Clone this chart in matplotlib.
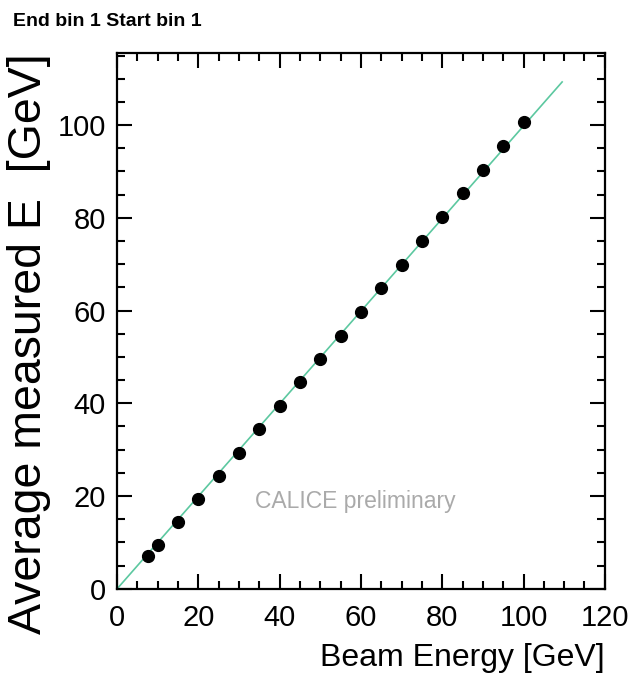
import matplotlib
matplotlib.use('Agg')
import matplotlib.pyplot as plt
from matplotlib.ticker import MultipleLocator

# beam energy scan, average reconstructed energy
beam_energy = [7.5, 10, 15, 20, 25, 30, 35, 40, 45, 50, 55, 60, 65, 70, 75, 80, 85, 90, 95, 100]
measured_e = [7.0, 9.5, 14.5, 19.3, 24.3, 29.3, 34.4, 39.5, 44.5, 49.6,
              54.6, 59.7, 64.8, 69.9, 75.0, 80.2, 85.3, 90.4, 95.4, 100.7]

# linear fit line end points
fit_x = [0, 109.5]
fit_y = [0, 109.3]

plt.rcParams['font.family'] = ['Liberation Sans', 'DejaVu Sans']

fig = plt.figure(figsize=(6.3, 6.91), dpi=100)
ax = fig.add_axes([0.186, 0.148, 0.774, 0.775])

ax.plot(fit_x, fit_y, color='#5cc8a0', linewidth=1.2, zorder=2)
ax.plot(beam_energy, measured_e, 'o', color='black', markersize=8.5, zorder=3)

ax.set_xlim(0, 120)
ax.set_ylim(0, 115.5)

ax.xaxis.set_major_locator(MultipleLocator(20))
ax.xaxis.set_minor_locator(MultipleLocator(5))
ax.yaxis.set_major_locator(MultipleLocator(20))
ax.yaxis.set_minor_locator(MultipleLocator(5))
ax.tick_params(which='both', direction='in', top=True, right=True, width=1.5)
ax.tick_params(which='major', length=11, labelsize=21, pad=8)
ax.tick_params(axis='x', which='major', pad=11)
ax.tick_params(which='minor', length=5.5)
for s in ax.spines.values():
    s.set_linewidth(1.6)

ax.set_xlabel('Beam Energy [GeV]', fontsize=23, loc='right', labelpad=8)
ax.set_ylabel('Average measured E  [GeV]', fontsize=33.5, loc='top', labelpad=5)

ax.text(34, 17.5, 'CALICE preliminary', fontsize=16.5, color='#aaaaaa')

fig.text(0.02, 0.962, 'End bin 1 Start bin 1', fontsize=14, fontweight='bold')

fig.savefig('out.png', dpi=100)
